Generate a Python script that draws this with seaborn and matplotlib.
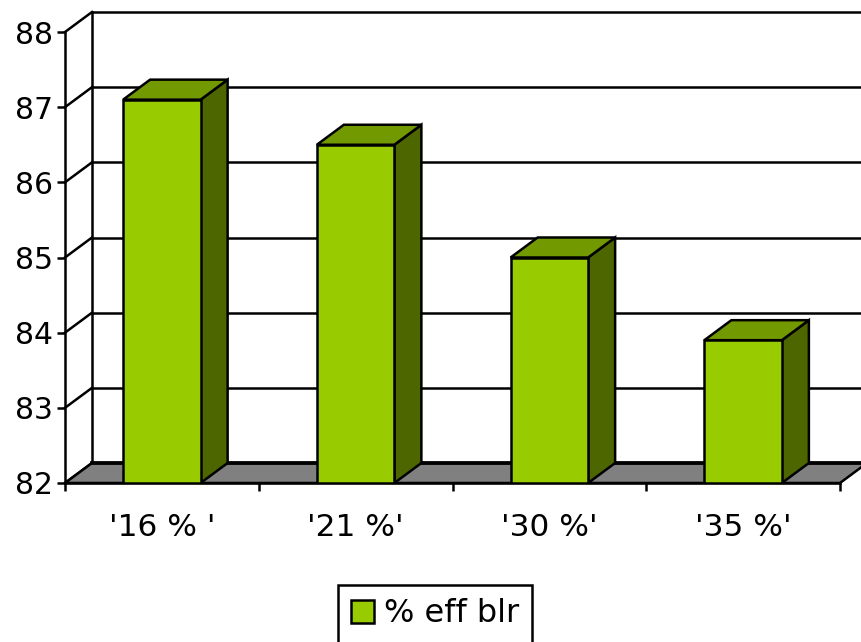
import matplotlib
matplotlib.use("Agg")
import matplotlib.pyplot as plt
from matplotlib.patches import Polygon, Patch
import seaborn as sns

# Boiler efficiency for each setting
categories = ["'16 % '", "'21 %'", "'30 %'", "'35 %'"]
efficiency = [87.1, 86.5, 85.0, 83.9]
series_name = "% eff blr"
y_ticks = [82, 83, 84, 85, 86, 87, 88]

FRONT = "#99CC00"
TOP = "#739900"
SIDE = "#4D6600"
FLOOR = "#808080"
LW = 1.8

sns.set_theme(style="white")
plt.rcParams["font.family"] = ["DejaVu Sans"]
plt.rcParams["text.color"] = "black"
plt.rcParams["xtick.color"] = "black"
plt.rcParams["ytick.color"] = "black"
plt.rcParams["xtick.labelcolor"] = "black"
plt.rcParams["ytick.labelcolor"] = "black"

W, H = 861, 642
fig = plt.figure(figsize=(W / 100, H / 100), dpi=100)
fig.patch.set_facecolor("white")
ax = fig.add_axes([65 / W, (H - 483) / H, (840 - 65) / W, (483 - 32) / H])
ax.set_facecolor("none")

ymin, ymax = y_ticks[0], y_ticks[-1]
xmin, xmax = -0.5, len(categories) - 0.5

# depth offset of the pseudo-3D box, in data units
dx = 27 / (775 / len(categories))
dy = 20 / (451 / (ymax - ymin))

sns.barplot(x=categories, y=efficiency, width=0.4, color=FRONT,
            saturation=1, edgecolor="black", linewidth=LW, ax=ax)
ax.set_xlim(xmin, xmax)
ax.set_ylim(ymin, ymax)

line_kw = dict(color="black", lw=LW, clip_on=False, solid_capstyle="projecting")

# back wall: gridlines, left edge, and the connectors to the front axis
for v in y_ticks:
    ax.plot([xmin + dx, xmax + dx + 0.2], [v + dy, v + dy], zorder=0.3, **line_kw)
    ax.plot([xmin, xmin + dx], [v, v + dy], zorder=0.3, **line_kw)
ax.plot([xmin + dx, xmin + dx], [ymin + dy, ymax + dy], zorder=0.3, **line_kw)

# floor
floor = Polygon([(xmin, ymin), (xmax, ymin), (xmax + dx, ymin + dy), (xmin + dx, ymin + dy)],
                closed=True, facecolor=FLOOR, edgecolor="black", lw=LW,
                clip_on=False, zorder=0.5)
ax.add_patch(floor)
ax.plot([xmin + dx, xmax + dx + 0.2], [ymin + dy, ymin + dy], zorder=0.6,
        **{**line_kw, "lw": LW * 1.5})

# top and side faces of every bar
for p in list(ax.patches):
    if p is floor:
        continue
    x0, w, h = p.get_x(), p.get_width(), p.get_height()
    x1 = x0 + w
    top = Polygon([(x0, h), (x1, h), (x1 + dx, h + dy), (x0 + dx, h + dy)], closed=True,
                  facecolor=TOP, edgecolor="black", lw=LW, joinstyle="miter", zorder=1.5)
    side = Polygon([(x1, ymin), (x1, h), (x1 + dx, h + dy), (x1 + dx, ymin + dy)], closed=True,
                   facecolor=SIDE, edgecolor="black", lw=LW, joinstyle="miter", zorder=1.5)
    ax.add_patch(side)
    ax.add_patch(top)
    p.set_zorder(2)

# axes styling
for s in ("top", "right"):
    ax.spines[s].set_visible(False)
for s in ("left", "bottom"):
    ax.spines[s].set_color("black")
    ax.spines[s].set_linewidth(LW)
    ax.spines[s].set_zorder(3)

ax.set_yticks(y_ticks)
ax.set_yticklabels([str(v) for v in y_ticks])
ax.tick_params(axis="y", direction="out", length=5.5, width=LW, color="black",
               labelcolor="black", labelsize=21.5, pad=3, left=True)
ax.set_xticks(range(len(categories)))
ax.set_xticklabels(categories)
ax.set_xticks([i - 0.5 for i in range(len(categories) + 1)], minor=True)
ax.tick_params(axis="x", which="major", length=0, labelsize=22.5, pad=21.5,
               labelcolor="black")
ax.tick_params(axis="x", which="minor", direction="out", length=6, width=LW,
               color="black", bottom=True)
ax.set_xlabel("")
ax.set_ylabel("")
ax.grid(False)

leg = fig.legend(handles=[Patch(facecolor=FRONT, edgecolor="black", lw=LW)],
                 labels=[series_name], loc="upper center",
                 bbox_to_anchor=(435 / W, 1 - 585 / H), fontsize=23,
                 frameon=True, fancybox=False, edgecolor="black", framealpha=1,
                 handlelength=0.72, handleheight=0.72, handletextpad=0.3,
                 borderpad=0.42, borderaxespad=0)
leg.get_frame().set_linewidth(LW)
for t in leg.get_texts():
    t.set_color("black")

fig.savefig("out.png", dpi=100, facecolor="white")
